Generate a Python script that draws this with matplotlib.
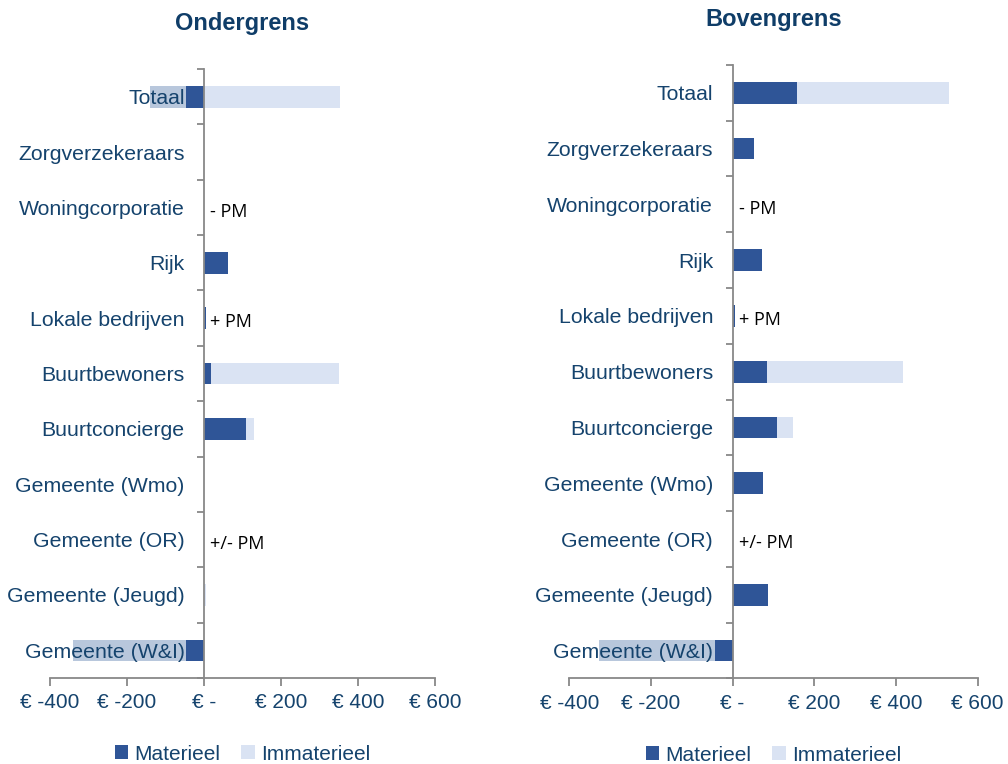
import numpy as np
import matplotlib
matplotlib.use('Agg')
import matplotlib.pyplot as plt

# Categorieen (van onder naar boven)
categorieen = ["Gemeente (W&I)", "Gemeente (Jeugd)", "Gemeente (OR)", "Gemeente (Wmo)",
               "Buurtconcierge", "Buurtbewoners", "Lokale bedrijven", "Rijk",
               "Woningcorporatie", "Zorgverzekeraars", "Totaal"]

# Ondergrens (x 1 euro)
onder_materieel = [-46, 0, 0, 0, 110, 19, 4, 62, 0, 0, -46]
onder_immat_pos = [0, 4, 0, 0, 20, 332, 0, 0, 0, 0, 353]
onder_immat_neg = [-293, 0, 0, 0, 0, 0, 0, 0, 0, 0, -93]
onder_pm = {"Woningcorporatie": "- PM", "Lokale bedrijven": "+ PM", "Gemeente (OR)": "+/- PM"}

# Bovengrens
boven_materieel = [-43, 86, 0, 74, 108, 85, 5, 71, 0, 52, 157]
boven_immat_pos = [0, 0, 0, 0, 41, 332, 0, 0, 0, 0, 372]
boven_immat_neg = [-284, 0, 0, 0, 0, 0, 0, 0, 0, 0, 0]
boven_pm = {"Woningcorporatie": "- PM", "Lokale bedrijven": "+ PM", "Gemeente (OR)": "+/- PM"}

x_ticks = [-400, -200, 0, 200, 400, 600]
x_labels = ["€ -400", "€ -200", "€ -", "€ 200", "€ 400", "€ 600"]

DONKER = '#2f5597'
LICHT = '#dae3f3'
LICHT_NEG = '#b8c7dc'
TEKST = '#15436d'
TITEL = '#0f3d68'
GRIJS = '#888888'

plt.rcParams['font.family'] = ['Liberation Sans', 'DejaVu Sans']

fig = plt.figure(figsize=(10.08, 7.64), dpi=100)
ax1 = fig.add_axes([0.0496, 0.1126, 0.382, 0.797])
ax2 = fig.add_axes([0.5648, 0.1120, 0.405, 0.803])


def teken(ax, titel, mat, imm_pos, imm_neg, pm):
    y = np.arange(len(categorieen))
    mat = np.array(mat, dtype=float)
    imm_pos = np.array(imm_pos, dtype=float)
    imm_neg = np.array(imm_neg, dtype=float)
    h = 0.39
    ax.barh(y, mat, height=h, color=DONKER, label="Materieel")
    ax.barh(y, imm_pos, left=np.clip(mat, 0, None), height=h, color=LICHT, label="Immaterieel")
    ax.barh(y, imm_neg, left=np.clip(mat, None, 0), height=h, color=LICHT_NEG, label="_nolegend_")

    # PM-labels naast de as
    for cat, txt in pm.items():
        i = categorieen.index(cat)
        ax.annotate(txt, (0, i), xytext=(4.5, -3), textcoords='offset points',
                    ha='left', va='center', fontsize=13, family=['Open Sans', 'DejaVu Sans'],
                    color='black')

    ax.set_xlim(-400, 600)
    ax.set_ylim(-0.5, len(categorieen) - 0.5)
    ax.spines['top'].set_visible(False)
    ax.spines['right'].set_visible(False)
    ax.spines['left'].set_position(('data', 0))
    for s in ['left', 'bottom']:
        ax.spines[s].set_color(GRIJS)
        ax.spines[s].set_linewidth(1.3)

    ax.set_yticks(y)
    ax.set_yticklabels(categorieen, fontsize=15.3, color=TEKST)
    ax.tick_params(axis='y', which='major', length=0, pad=14)
    ax.set_yticks(np.arange(len(categorieen) + 1) - 0.5, minor=True)
    ax.tick_params(axis='y', which='minor', length=5, width=1.3, color=GRIJS, direction='out')

    ax.set_xticks(x_ticks)
    ax.set_xticklabels(x_labels, fontsize=15, color=TEKST)
    ax.tick_params(axis='x', length=6, width=1.3, color=GRIJS, pad=5)

    ax.set_title(titel, fontsize=17, fontweight='bold', color=TITEL, pad=28)
    leg = ax.legend(loc='center', bbox_to_anchor=(0.5, -0.125), ncol=2, frameon=False,
                    fontsize=15, handlelength=0.65, handleheight=0.65,
                    handletextpad=0.3, columnspacing=1.0)
    for t in leg.get_texts():
        t.set_color(TEKST)


teken(ax1, "Ondergrens", onder_materieel, onder_immat_pos, onder_immat_neg, onder_pm)
teken(ax2, "Bovengrens", boven_materieel, boven_immat_pos, boven_immat_neg, boven_pm)

fig.savefig("out.png", dpi=100)
